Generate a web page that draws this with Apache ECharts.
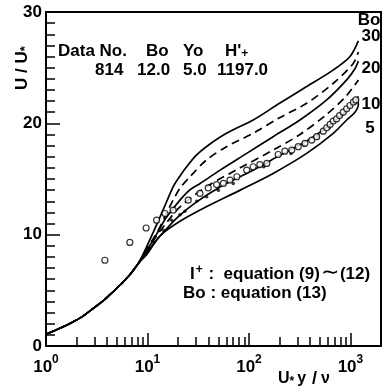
<!DOCTYPE html>
<html>
<head>
<meta charset="utf-8">
<script src="https://cdn.jsdelivr.net/npm/echarts@6.0.0/dist/echarts.min.js"></script>
<style>
  html, body { margin: 0; padding: 0; background: #fff; }
  #chart { width: 384px; height: 390px; }
</style>
</head>
<body>
<div id="chart"></div>
<script>
// Velocity profiles U/U* against U*y/ν for several Bo values
const wallRegion = [[1, 1.05], [1.3, 1.5], [1.7, 2.0], [2.2, 2.55], [2.8, 3.25], [3.7, 4.1], [4.5, 4.8], [5.4, 5.5], [6.7, 6.4], [8.1, 7.4]];

const curveBo30 = [[9.8, 8.9], [11.5, 10.3], [13.3, 11.6], [15.5, 13.0], [17.9, 14.3], [21, 15.3], [24.3, 16.1], [30, 17.1], [38, 17.9], [60, 19.1], [110, 20.3], [200, 21.8], [370, 23.3], [680, 24.8], [990, 26.0], [1197, 27.4]];
const curveBo25 = [[9.8, 8.7], [11.5, 9.7], [13.3, 10.7], [15.5, 12.0], [17.9, 13.1], [21, 14.2], [26.2, 15.2], [38, 16.7], [60, 17.9], [110, 19.1], [200, 20.5], [370, 21.8], [680, 23.6], [1070, 25.4], [1197, 26.4]];
const curveBo20 = [[9.8, 8.6], [11.4, 9.5], [13.3, 10.6], [15.5, 11.6], [20.9, 13.1], [26, 14.0], [33, 14.6], [52, 15.8], [95, 17.3], [173, 18.8], [318, 20.3], [583, 22.1], [918, 23.9], [1107, 24.9], [1197, 25.6]];
const curveBo15 = [[9.8, 8.5], [12.3, 9.9], [15.5, 11.1], [20.9, 12.5], [38, 14.3], [82, 16.0], [173, 17.6], [318, 19.0], [583, 20.8], [918, 22.5], [1197, 23.9]];
const curveBo10 = [[9.8, 8.4], [14, 10.1], [20, 11.6], [30, 12.9], [50, 14.2], [100, 15.6], [200, 17.1], [400, 18.6], [700, 20.2], [1000, 21.5], [1197, 22.4]];
const curveBo5 = [[9.8, 8.2], [13.3, 9.9], [20.9, 11.2], [38, 12.5], [82, 14.0], [173, 15.5], [370, 17.3], [677, 19.1], [918, 20.3], [1107, 21.0], [1197, 21.7], [1160, 22.3]];

// Measured profile, Data No. 814
const openPoints = [[3.8, 7.7], [6.7, 9.3], [9.7, 10.6], [12.3, 11.3], [14.9, 11.9], [17.9, 12.2], [25.2, 13.1], [32.9, 13.7], [39.7, 14.2], [48, 14.5], [56, 14.6], [65, 14.9], [76, 15.2], [95, 15.8], [110, 16.1], [128, 16.3], [150, 16.4], [194, 17.2], [226, 17.5], [264, 17.6], [306, 17.9], [356, 18.2], [415, 18.5], [465, 18.8], [540, 19.3], [583, 19.6], [630, 19.9], [677, 20.2], [730, 20.4], [782, 20.7], [850, 21.0], [918, 21.3], [990, 21.6], [1070, 21.9], [1130, 22.1]];
const filledPoints = [[11.6, 9.3], [14.3, 10.4], [17.3, 11.3], [20.9, 11.8], [23.4, 12.1], [30.6, 13.0], [38.3, 13.4], [49.9, 14.0], [70, 14.6], [140, 16.1], [260, 17.3], [350, 18.0], [480, 18.8], [620, 19.6], [820, 20.7], [1100, 21.8]];

const majorTicksX = [1, 10, 100, 1000];
const minorTicksX = [2, 3, 4, 5, 6, 7, 8, 9, 20, 30, 40, 50, 60, 70, 80, 90, 200, 300, 400, 500, 600, 700, 800, 900];

const FONT = 'Liberation Sans, Arial, sans-serif';
const FS = 17;
const FW = 'bold';

function profile(pts) { return wallRegion.concat(pts); }

function curve(pts, dashed) {
  return {
    type: 'line',
    data: profile(pts),
    showSymbol: false,
    symbol: 'none',
    smooth: 0.3,
    lineStyle: { color: '#000', width: 1.7, type: dashed ? [8, 5] : 'solid' },
    silent: true,
    z: 2
  };
}

function label(text, x, y, align) {
  return {
    type: 'text', x: x, y: y,
    style: { text: text, fontSize: FS, fontWeight: FW, fontFamily: FONT, fill: '#000', align: align || 'left', verticalAlign: 'middle' }
  };
}

function rt(size, extra) {
  return Object.assign({ fontSize: size, fontWeight: FW, fontFamily: FONT, fill: '#000', color: '#000' }, extra || {});
}

const chart = echarts.init(document.getElementById('chart'), null, { renderer: 'canvas' });

chart.setOption({
  animation: false,
  backgroundColor: '#fff',
  grid: { left: 46, right: 3, top: 12, bottom: 44, show: true, borderColor: '#000', borderWidth: 2, backgroundColor: 'transparent' },
  xAxis: [
    {
      type: 'log', logBase: 10, min: 1, max: 2000,
      axisLine: { show: true, lineStyle: { color: '#000', width: 2 } },
      axisTick: { show: true, inside: true, length: 13, lineStyle: { color: '#000', width: 1.5 }, customValues: majorTicksX },
      axisLabel: {
        show: true, margin: 8, color: '#000', customValues: majorTicksX,
        formatter: function (v) { return '{b|10}{s|' + Math.round(Math.log10(v)) + '}'; },
        rich: {
          b: rt(FS, { verticalAlign: 'bottom', lineHeight: 22 }),
          s: rt(12, { verticalAlign: 'top', lineHeight: 22 })
        }
      },
      splitLine: { show: false }
    },
    {
      type: 'log', logBase: 10, min: 1, max: 2000, gridIndex: 0, position: 'bottom',
      axisLine: { show: false },
      axisTick: { show: true, inside: true, length: 9, lineStyle: { color: '#000', width: 1.5 }, customValues: minorTicksX },
      axisLabel: { show: false },
      splitLine: { show: false }
    }
  ],
  yAxis: {
    type: 'value', min: 0, max: 30, interval: 10,
    axisLine: { show: true, lineStyle: { color: '#000', width: 2 } },
    axisTick: { show: true, inside: true, length: 14, lineStyle: { color: '#000', width: 1.5 } },
    minorTick: { show: true, splitNumber: 10, length: 9, lineStyle: { color: '#000', width: 1.5 } },
    axisLabel: { color: '#000', fontSize: FS, fontWeight: FW, fontFamily: FONT, margin: 4 },
    splitLine: { show: false }
  },
  series: [
    curve(curveBo30, false),
    curve(curveBo25, true),
    curve(curveBo20, false),
    curve(curveBo15, true),
    curve(curveBo10, false),
    curve(curveBo5, false),
    {
      type: 'scatter', data: filledPoints, symbol: 'circle', symbolSize: 3.5,
      itemStyle: { color: '#000' }, z: 3
    },
    {
      type: 'scatter', data: openPoints, symbol: 'circle', symbolSize: 6,
      itemStyle: { color: '#fff', borderColor: '#000', borderWidth: 1.2 }, z: 4
    }
  ],
  graphic: [
    // axis titles
    {
      type: 'text', x: 22, y: 68, rotation: Math.PI / 2,
      style: {
        text: '{a|U / U}{s|*}', align: 'center', verticalAlign: 'middle',
        rich: { a: rt(FS), s: rt(13, { padding: [7, 0, 0, 0] }) }
      }
    },
    {
      type: 'text', x: 278, y: 379,
      style: {
        text: '{a|U}{s|*}{a|y}{b|/}{a|ν}', verticalAlign: 'middle',
        rich: {
          a: rt(16),
          b: rt(18, { padding: [0, 4, 0, 6] }),
          s: rt(12, { padding: [5, 3, 0, 0] })
        }
      }
    },
    // data header
    label('Data No.', 58, 51),
    label('Bo', 146, 51),
    label('Yo', 183, 51),
    {
      type: 'text', x: 225, y: 51,
      style: {
        text: "{a|H'}{s|+}", verticalAlign: 'middle',
        rich: { a: rt(FS), s: rt(12, { padding: [5, 0, 0, 0] }) }
      }
    },
    label('814', 95, 70),
    label('12.0', 137, 70),
    label('5.0', 183, 70),
    label('1197.0', 217, 70),
    // curve labels
    label('Bo', 369, 20, 'center'),
    label('30', 371, 36, 'center'),
    label('20', 371, 68, 'center'),
    label('10', 371, 104, 'center'),
    label('5', 370, 128, 'center'),
    // equation notes
    {
      type: 'text', x: 190, y: 274,
      style: {
        text: '{a|I}{p|+}{a| :  equation (9)}{t|∼}{a|(12)}', verticalAlign: 'middle',
        rich: {
          a: rt(FS),
          p: rt(12, { padding: [0, 1, 8, 1] }),
          t: rt(22, { fontWeight: 'normal', padding: [0, 1, 3, 1] })
        }
      }
    },
    label('Bo : equation (13)', 183, 293)
  ]
});
</script>
</body>
</html>
